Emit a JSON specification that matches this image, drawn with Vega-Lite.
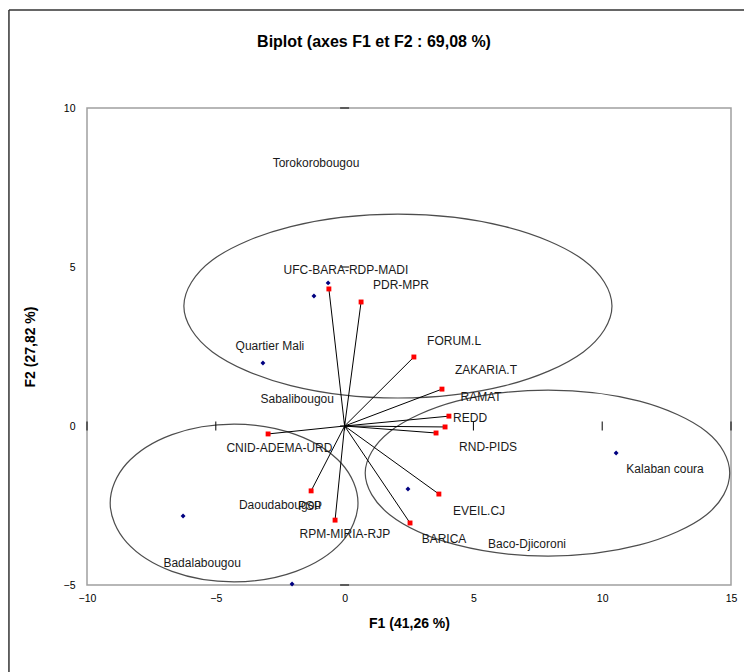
{
  "$schema": "https://vega.github.io/schema/vega-lite/v6.json",
  "width": 644,
  "height": 477,
  "autosize": {"type": "none"},
  "padding": {"left": 87, "top": 108, "right": 13, "bottom": 87},
  "background": "white",
  "config": {
    "view": {"stroke": "#a0a0a0", "strokeWidth": 1.5},
    "font": "Liberation Sans"
  },
  "title": {
    "text": "Biplot (axes F1 et F2 : 69,08 %)",
    "fontSize": 16,
    "fontWeight": "bold",
    "font": "Liberation Sans",
    "color": "#000000",
    "anchor": "middle",
    "dx": -35,
    "offset": -41
  },
  "datasets": {
    "points": [
      {"name": "Torokorobougou", "kind": "obs", "x": -0.64, "y": 4.50, "lx": -1.11, "ly": 8.27},
      {"name": "Sabalibougou", "kind": "obs", "x": -1.19, "y": 4.09, "lx": -1.84, "ly": 0.85},
      {"name": "Quartier Mali", "kind": "obs", "x": -3.17, "y": 1.98, "lx": -2.90, "ly": 2.52},
      {"name": "Badalabougou", "kind": "obs", "x": -6.27, "y": -2.83, "lx": -5.53, "ly": -4.31},
      {"name": "Daoudabougou", "kind": "obs", "x": -2.04, "y": -4.97, "lx": -2.51, "ly": -2.48},
      {"name": "Baco-Djicoroni", "kind": "obs", "x": 2.46, "y": -1.98, "lx": 7.08, "ly": -3.71},
      {"name": "Kalaban coura", "kind": "obs", "x": 10.54, "y": -0.85, "lx": 12.44, "ly": -1.35},
      {"name": "UFC-BARA-RDP-MADI", "kind": "var", "x": -0.61, "y": 4.31, "lx": 0.05, "ly": 4.91},
      {"name": "PDR-MPR", "kind": "var", "x": 0.64, "y": 3.90, "lx": 2.19, "ly": 4.43},
      {"name": "FORUM.L", "kind": "var", "x": 2.69, "y": 2.17, "lx": 4.25, "ly": 2.67},
      {"name": "ZAKARIA.T", "kind": "var", "x": 3.78, "y": 1.16, "lx": 5.49, "ly": 1.76},
      {"name": "RAMAT", "kind": "var", "x": 4.05, "y": 0.31, "lx": 5.30, "ly": 0.91},
      {"name": "REDD", "kind": "var", "x": 3.90, "y": -0.03, "lx": 4.87, "ly": 0.25},
      {"name": "RND-PIDS", "kind": "var", "x": 3.55, "y": -0.22, "lx": 5.57, "ly": -0.66},
      {"name": "CNID-ADEMA-URD", "kind": "var", "x": -2.97, "y": -0.25, "lx": -2.53, "ly": -0.69},
      {"name": "PSP", "kind": "var", "x": -1.30, "y": -2.04, "lx": -1.34, "ly": -2.52},
      {"name": "RPM-MIRIA-RJP", "kind": "var", "x": -0.37, "y": -2.96, "lx": 0.01, "ly": -3.40},
      {"name": "EVEIL.CJ", "kind": "var", "x": 3.66, "y": -2.14, "lx": 5.22, "ly": -2.67},
      {"name": "BARICA", "kind": "var", "x": 2.54, "y": -3.05, "lx": 3.86, "ly": -3.55}
    ],
    "ellipses": [
      {"g": "top", "i": 0, "x": 10.38, "y": 3.77},
      {"g": "top", "i": 1, "x": 9.27, "y": 5.22},
      {"g": "top", "i": 2, "x": 6.23, "y": 6.27},
      {"g": "top", "i": 3, "x": 2.07, "y": 6.66},
      {"g": "top", "i": 4, "x": -2.09, "y": 6.27},
      {"g": "top", "i": 5, "x": -5.13, "y": 5.22},
      {"g": "top", "i": 6, "x": -6.24, "y": 3.77},
      {"g": "top", "i": 7, "x": -5.13, "y": 2.33},
      {"g": "top", "i": 8, "x": -2.09, "y": 1.27},
      {"g": "top", "i": 9, "x": 2.07, "y": 0.88},
      {"g": "top", "i": 10, "x": 6.23, "y": 1.27},
      {"g": "top", "i": 11, "x": 9.27, "y": 2.33},
      {"g": "right", "i": 0, "x": 14.95, "y": -1.48},
      {"g": "right", "i": 1, "x": 14.05, "y": -0.18},
      {"g": "right", "i": 2, "x": 11.45, "y": 0.78},
      {"g": "right", "i": 3, "x": 7.90, "y": 1.13},
      {"g": "right", "i": 4, "x": 4.35, "y": 0.78},
      {"g": "right", "i": 5, "x": 1.75, "y": -0.18},
      {"g": "right", "i": 6, "x": 0.80, "y": -1.48},
      {"g": "right", "i": 7, "x": 1.75, "y": -2.79},
      {"g": "right", "i": 8, "x": 4.35, "y": -3.74},
      {"g": "right", "i": 9, "x": 7.90, "y": -4.09},
      {"g": "right", "i": 10, "x": 11.45, "y": -3.74},
      {"g": "right", "i": 11, "x": 14.05, "y": -2.79},
      {"g": "left", "i": 0, "x": 0.52, "y": -2.42},
      {"g": "left", "i": 1, "x": -0.12, "y": -1.18},
      {"g": "left", "i": 2, "x": -1.89, "y": -0.27},
      {"g": "left", "i": 3, "x": -4.29, "y": 0.06},
      {"g": "left", "i": 4, "x": -6.70, "y": -0.27},
      {"g": "left", "i": 5, "x": -8.46, "y": -1.18},
      {"g": "left", "i": 6, "x": -9.10, "y": -2.42},
      {"g": "left", "i": 7, "x": -8.46, "y": -3.66},
      {"g": "left", "i": 8, "x": -6.70, "y": -4.57},
      {"g": "left", "i": 9, "x": -4.29, "y": -4.90},
      {"g": "left", "i": 10, "x": -1.89, "y": -4.57},
      {"g": "left", "i": 11, "x": -0.12, "y": -3.66}
    ],
    "frame": [
      {"part": "left", "fx": -13.03, "fy": 13.08, "fx2": -13.03, "fy2": -10},
      {"part": "top", "fx": -13.03, "fy": 13.08, "fx2": 20, "fy2": 13.08}
    ],
    "xticks": [{"v": -10}, {"v": -5}, {"v": 0}, {"v": 5}, {"v": 10}, {"v": 15}],
    "yticks": [{"v": -5}, {"v": 0}, {"v": 5}, {"v": 10}]
  },
  "layer": [
    {
      "data": {"name": "ellipses"},
      "mark": {"type": "line", "interpolate": "cardinal-closed", "color": "#4d4d4d", "strokeWidth": 1.2},
      "encoding": {
        "x": {
          "field": "x", "type": "quantitative", "title": "F1 (41,26 %)",
          "scale": {"domain": [-10, 15], "nice": false, "zero": false},
          "axis": {
            "values": [-10, -5, 0, 5, 10, 15], "grid": false, "domain": false, "ticks": false,
            "labelFontSize": 10.5, "labelColor": "#000000", "labelPadding": 8, "labelFlush": false,
            "titleFontSize": 14, "titleFontWeight": "bold", "titleColor": "#000000", "titlePadding": 13,
            "titleFont": "Liberation Sans", "labelFont": "Liberation Sans"
          }
        },
        "y": {
          "field": "y", "type": "quantitative", "title": "F2 (27,82 %)",
          "scale": {"domain": [-5, 10], "nice": false, "zero": false},
          "axis": {
            "values": [-5, 0, 5, 10], "grid": false, "domain": false, "ticks": false,
            "labelFontSize": 10.5, "labelColor": "#000000", "labelPadding": 12, "labelFlush": false,
            "titleFontSize": 14, "titleFontWeight": "bold", "titleColor": "#000000", "titlePadding": 26,
            "titleFont": "Liberation Sans", "labelFont": "Liberation Sans"
          }
        },
        "detail": {"field": "g"},
        "order": {"field": "i", "type": "quantitative"}
      }
    },
    {
      "data": {"name": "frame"},
      "mark": {"type": "rule", "color": "#333333", "strokeWidth": 1.5, "clip": false},
      "encoding": {
        "x": {"field": "fx", "type": "quantitative", "title": "F1 (41,26 %)"},
        "x2": {"field": "fx2"},
        "y": {"field": "fy", "type": "quantitative", "title": "F2 (27,82 %)"},
        "y2": {"field": "fy2"}
      }
    },
    {
      "mark": {"type": "rule", "color": "#000000", "strokeWidth": 1},
      "encoding": {"x": {"datum": 0, "type": "quantitative"}}
    },
    {
      "mark": {"type": "rule", "color": "#000000", "strokeWidth": 1},
      "encoding": {"y": {"datum": 0, "type": "quantitative"}}
    },
    {
      "data": {"name": "xticks"},
      "mark": {"type": "tick", "orient": "vertical", "color": "#000000", "opacity": 1, "size": 9, "thickness": 1},
      "encoding": {
        "x": {"field": "v", "type": "quantitative", "title": "F1 (41,26 %)"},
        "y": {"datum": 0, "type": "quantitative"}
      }
    },
    {
      "data": {"name": "yticks"},
      "mark": {"type": "tick", "orient": "horizontal", "color": "#000000", "opacity": 1, "size": 9, "thickness": 1},
      "encoding": {
        "y": {"field": "v", "type": "quantitative", "title": "F2 (27,82 %)"},
        "x": {"datum": 0, "type": "quantitative"}
      }
    },
    {
      "data": {"name": "points"},
      "transform": [{"filter": "datum.kind === 'var'"}],
      "mark": {"type": "rule", "color": "#000000", "strokeWidth": 1},
      "encoding": {
        "x": {"field": "x", "type": "quantitative", "title": "F1 (41,26 %)"},
        "y": {"field": "y", "type": "quantitative", "title": "F2 (27,82 %)"},
        "x2": {"datum": 0},
        "y2": {"datum": 0}
      }
    },
    {
      "data": {"name": "points"},
      "mark": {"type": "point", "filled": true, "opacity": 1},
      "encoding": {
        "x": {"field": "x", "type": "quantitative", "title": "F1 (41,26 %)"},
        "y": {"field": "y", "type": "quantitative", "title": "F2 (27,82 %)"},
        "shape": {"field": "kind", "type": "nominal", "scale": {"domain": ["obs", "var"], "range": ["diamond", "square"]}, "legend": null},
        "color": {"field": "kind", "type": "nominal", "scale": {"domain": ["obs", "var"], "range": ["#000080", "#ff0000"]}, "legend": null},
        "size": {"value": 24}
      }
    },
    {
      "data": {"name": "points"},
      "mark": {"type": "text", "fontSize": 12, "font": "Liberation Sans", "color": "#1a1a1a", "align": "center", "baseline": "middle"},
      "encoding": {
        "x": {"field": "lx", "type": "quantitative", "title": "F1 (41,26 %)"},
        "y": {"field": "ly", "type": "quantitative", "title": "F2 (27,82 %)"},
        "text": {"field": "name"}
      }
    }
  ]
}
